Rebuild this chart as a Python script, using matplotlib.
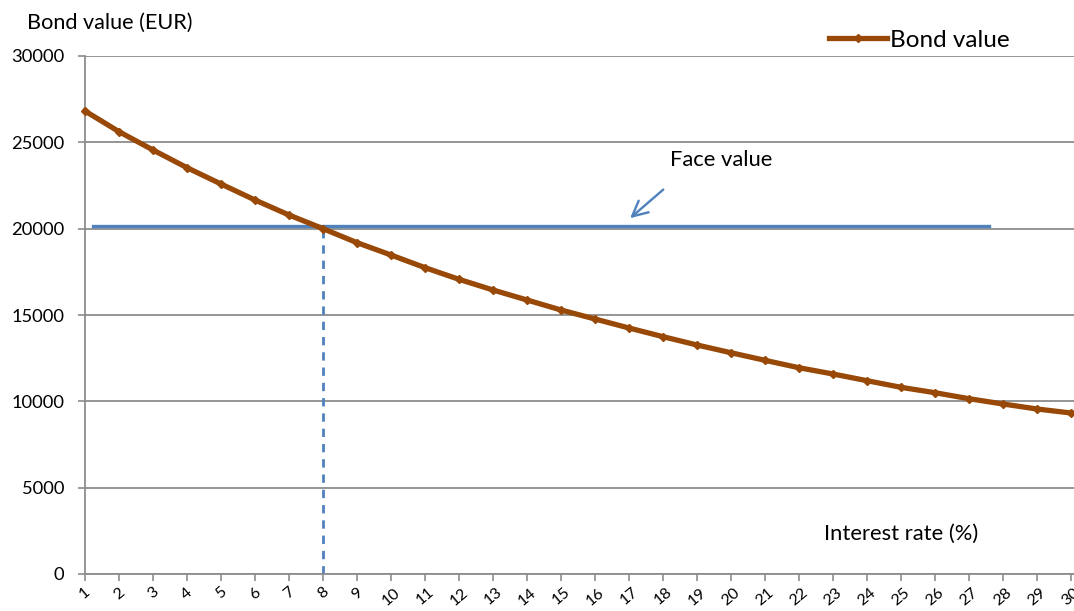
import numpy as np
import matplotlib.pyplot as plt

plt.rcParams['font.family'] = ['Lato', 'DejaVu Sans']

# interest rate (%) and bond value (EUR)
rates = list(range(1, 31))
bond_value = [26815, 25617, 24556, 23532, 22587, 21660, 20791, 20000, 19189, 18475,
              17741, 17066, 16448, 15869, 15290, 14768, 14247, 13745, 13263, 12815,
              12375, 11946, 11583, 11195, 10811, 10500, 10152, 9846, 9556, 9324]
face_value = 20130
face_span = [1.24, 27.6]
par_rate = 8
par_value = 20000

brown = '#984807'
blue = '#4F81BD'
grid = '#8C8C8C'

fig = plt.figure(figsize=(10.74, 6.11), dpi=100)
ax = fig.add_axes([85 / 1074, 1 - 574 / 611, 1 - 85 / 1074, (574 - 56) / 611])

ax.set_xlim(1, 1 + (1074 - 85) / 34)
ax.set_ylim(0, 30000)
ax.set_yticks(range(0, 30001, 5000))
ax.set_xticks(rates)
ax.set_xticklabels([str(r) for r in rates], rotation=40, ha='center', va='top')
ax.yaxis.grid(True, color=grid, lw=1.3)
ax.set_axisbelow(True)
for s in ['top', 'right']:
    ax.spines[s].set_visible(False)
for s in ['left', 'bottom']:
    ax.spines[s].set_color(grid)
    ax.spines[s].set_linewidth(1.3)
ax.tick_params(axis='both', colors=grid, labelcolor='black', length=5, width=1.2)
ax.tick_params(axis='y', pad=10, labelsize=13.2)
ax.tick_params(axis='x', pad=3, labelsize=11.5)

# face value line and par crossing
ax.plot(face_span, [face_value, face_value], color=blue, lw=2.4, zorder=2)
ax.plot([par_rate, par_rate], [0, par_value], color=blue, lw=2, ls=(0, (3, 2.5)), zorder=2)

ax.plot(rates, bond_value, color=brown, lw=3.8, marker='D', ms=4.5,
        mec=brown, mfc=brown, label='Bond value', zorder=3, clip_on=False)

ax.annotate('', xy=(16.97, 20502), xytext=(18.07, 22370),
            arrowprops=dict(arrowstyle='->,head_length=1.1,head_width=0.55',
                            color=blue, lw=1.7))
ax.text(19.7, 23950, 'Face value', ha='center', va='center', fontsize=15.8)
ax.text(25.0, 2317, 'Interest rate (%)', ha='center', va='center', fontsize=15.8)
fig.text(27 / 1074, 1 - 23 / 611, 'Bond value (EUR)', ha='left', va='center', fontsize=15.6)

leg = ax.legend(loc='center left', frameon=False, fontsize=17.5,
                handlelength=2.4, handletextpad=0.1, borderaxespad=0, borderpad=0)
leg.set_bbox_to_anchor((829 / 1074, 1 - 40 / 611), transform=fig.transFigure)

fig.savefig('out.png', dpi=100)
